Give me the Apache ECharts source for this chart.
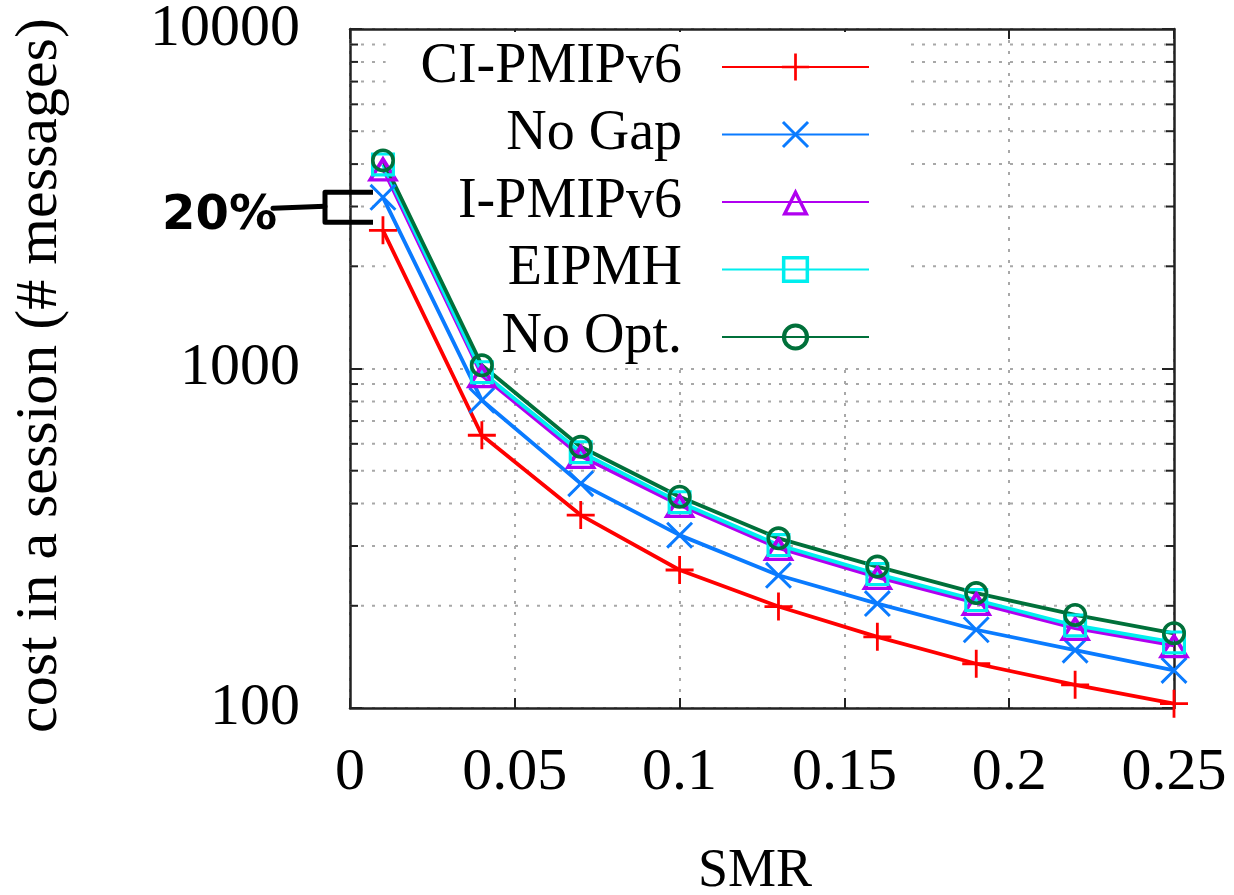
<!DOCTYPE html>
<html><head><meta charset="utf-8">
<script src="https://cdn.jsdelivr.net/npm/echarts@6/dist/echarts.min.js"></script>
<style>html,body{margin:0;padding:0;background:#fff}#c{width:1234px;height:895px}</style>
</head><body><div id="c"></div>
<script>
// ---- data ----
const smr     = [0.01, 0.04, 0.07, 0.10, 0.13, 0.16, 0.19, 0.22, 0.25];
const ciPmip  = [2553, 636, 370, 255, 199, 162, 135, 117, 103];
const noGap   = [3192, 806, 458, 323, 246, 203, 170, 148, 129];
const iPmip   = [3885, 955, 552, 396, 296, 243, 204, 172, 153];
const eipmh   = [3990, 975, 567, 404, 302, 248, 208, 175, 156];
const noOpt   = [4102, 1022, 588, 419, 316, 261, 218, 188, 166];
const seriesNames = ['CI-PMIPv6', 'No Gap', 'I-PMIPv6', 'EIPMH', 'No Opt.'];
const xMin = 0, xMax = 0.25, xStep = 0.05;
const yMin = 100, yMax = 10000;
const minorVals = [200, 300, 400, 500, 600, 700, 800, 900, 2000, 3000, 4000, 5000, 6000, 7000, 8000, 9000];
const xTitle = 'SMR';
const yTitle = 'cost in a session (# messages)';
const annotationText = '20%';

// ---- styles ----
const SERIF = '"Liberation Serif", "Times New Roman", serif';
const AX = '#222';
const GRID = '#a8a8a8';
const colors = ['#ff0000', '#0a7bff', '#b000f0', '#00eeee', '#00703a'];
const PLUS = 'path://M9,0H11V9H20V11H11V20H9V11H0V9H9Z';
const CROSS = 'path://M0,1.56L1.56,0L10,8.44L18.44,0L20,1.56L11.56,10L20,18.44L18.44,20L10,11.56L1.56,20L0,18.44L8.44,10Z';
const TRI_RING = 'path://M10,0L20,20L0,20Z M10,5.59L4.05,17.5L15.95,17.5Z';
const SQ_RING = 'path://M0,0H20V20H0Z M2.6,2.6V17.4H17.4V2.6Z';
const CIRC_RING = 'path://M10,0A10,10 0 1,1 10,20A10,10 0 1,1 10,0Z M10,3A7,7 0 1,0 10,17A7,7 0 1,0 10,3Z';

function pairs(ys) { return smr.map((x, i) => [x, ys[i]]); }
function lineSeries(name, ys, color, symbol, size) {
  return {
    type: 'line', name, data: pairs(ys), xAxisIndex: 0, yAxisIndex: 0,
    symbol, symbolSize: size, showAllSymbol: true, color,
    lineStyle: { color, width: 3.8 },
    itemStyle: { color, borderWidth: 0 },
    emphasis: { disabled: true }, animation: false, z: 3, clip: false
  };
}

const chart = echarts.init(document.getElementById('c'), null, { renderer: 'canvas', width: 1234, height: 895 });

const axisLine = { show: true, onZero: false, lineStyle: { color: AX, width: 2.5 } };
const gridLine = { show: true, lineStyle: { color: GRID, width: 2, type: [3, 8] } };

chart.setOption({
  animation: false,
  backgroundColor: '#fff',
  textStyle: { fontFamily: SERIF },
  grid: { left: 350, right: 60, top: 29, bottom: 187, containLabel: false, outerBoundsMode: 'none' },
  legend: {
    data: seriesNames, orient: 'vertical', right: 329, top: 32, align: 'right',
    itemWidth: 147, itemHeight: 34, itemGap: 11.5, padding: [7, 35, 0, 35],
    backgroundColor: '#fff', z: 1.5, selectedMode: false,
    textStyle: { fontFamily: SERIF, fontSize: 56, color: '#000', lineHeight: 40, padding: [0, 35, 0, 0] }
  },
  xAxis: [{
    type: 'value', min: xMin, max: xMax, interval: xStep, position: 'bottom',
    axisLine, axisTick: { show: true, inside: true, length: 10, lineStyle: { color: AX, width: 2 } },
    axisLabel: { fontFamily: SERIF, fontSize: 60, color: '#000', margin: 35 },
    splitLine: gridLine,
    name: xTitle, nameLocation: 'middle', nameGap: 137,
    nameTextStyle: { fontFamily: SERIF, fontSize: 54, color: '#000', padding: [0, 14, 0, 0] }
  }, {
    type: 'value', min: xMin, max: xMax, interval: xStep, position: 'top',
    axisLine, axisTick: { show: true, inside: true, length: 10, lineStyle: { color: AX, width: 2 } },
    axisLabel: { show: false }, splitLine: { show: false }
  }],
  yAxis: [{
    type: 'log', logBase: 10, min: yMin, max: yMax, position: 'left',
    axisLine, axisTick: { show: true, inside: true, length: 12, lineStyle: { color: AX, width: 2 } },
    axisLabel: { fontFamily: SERIF, fontSize: 60, color: '#000', margin: 50, formatter: v => String(Math.round(v)) },
    splitLine: gridLine,
    name: yTitle, nameLocation: 'middle', nameGap: 280,
    nameTextStyle: { fontFamily: SERIF, fontSize: 60, color: '#000', padding: [0, 14, 0, 0] }
  }, {
    type: 'log', logBase: 10, min: yMin, max: yMax, position: 'right',
    axisLine, axisTick: { show: true, inside: true, length: 12, lineStyle: { color: AX, width: 2 } },
    axisLabel: { show: false }, splitLine: { show: false }
  }],
  series: [
    {
      type: 'custom', name: 'minor', xAxisIndex: 0, yAxisIndex: 0, z: 1, silent: true, animation: false,
      data: minorVals.map(v => [xMin, v]), clip: false,
      renderItem(params, api) {
        const cs = params.coordSys;
        const y = api.coord([xMin, api.value(1)])[1];
        const l = cs.x, r = cs.x + cs.width;
        return { type: 'group', children: [
          { type: 'line', shape: { x1: l, y1: y, x2: r, y2: y }, style: { stroke: GRID, lineWidth: 2, lineDash: [3, 8] } },
          { type: 'line', shape: { x1: l, y1: y, x2: l + 8, y2: y }, style: { stroke: AX, lineWidth: 2 } },
          { type: 'line', shape: { x1: r - 8, y1: y, x2: r, y2: y }, style: { stroke: AX, lineWidth: 2 } }
        ] };
      }
    },
    lineSeries(seriesNames[0], ciPmip, colors[0], PLUS, 28),
    lineSeries(seriesNames[1], noGap, colors[1], CROSS, 27),
    lineSeries(seriesNames[2], iPmip, colors[2], TRI_RING, [32, 26]),
    lineSeries(seriesNames[3], eipmh, colors[3], SQ_RING, 24),
    lineSeries(seriesNames[4], noOpt, colors[4], CIRC_RING, 24)
  ]
});

// ---- "20%" bracket annotation anchored to the first data points ----
const pA = chart.convertToPixel({ xAxisIndex: 0, yAxisIndex: 0 }, [xMin, noGap[0]]);
const pB = chart.convertToPixel({ xAxisIndex: 0, yAxisIndex: 0 }, [xMin, ciPmip[0]]);
const gl = pA[0];
const yTop = pA[1] - 5, yBot = pB[1] - 8, yMid = (yTop + yBot) / 2;
chart.setOption({
  graphic: [
    { type: 'polyline', z: 100, shape: { points: [[gl + 23, yTop], [gl - 25, yTop], [gl - 25, yBot], [gl + 23, yBot]] },
      style: { stroke: '#000', lineWidth: 5, fill: null, lineJoin: 'round' } },
    { type: 'line', z: 100, shape: { x1: gl - 77, y1: yMid + 1, x2: gl - 25, y2: yMid - 1 },
      style: { stroke: '#000', lineWidth: 5, lineCap: 'round' } },
    { type: 'text', z: 100, x: gl - 73, y: yMid + 9,
      style: { text: annotationText, fill: '#000', font: 'bold 48px "DejaVu Sans", sans-serif', textAlign: 'right', textVerticalAlign: 'middle' } }
  ]
});
</script>
</body></html>
